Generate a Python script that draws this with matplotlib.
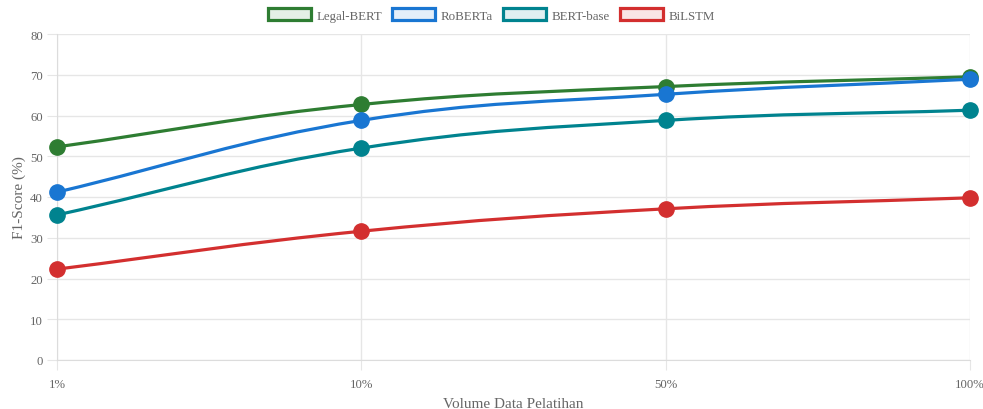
import numpy as np
import matplotlib
matplotlib.use("Agg")
import matplotlib.pyplot as plt
from matplotlib.path import Path
from matplotlib.patches import PathPatch, Patch

# F1 scores per training data volume
volumes = ["1%", "10%", "50%", "100%"]
legal_bert = [52.3, 62.7, 67.1, 69.5]
roberta = [41.2, 58.8, 65.2, 68.9]
bert_base = [35.6, 52.0, 58.8, 61.3]
bilstm = [22.3, 31.6, 37.1, 39.8]

models = ["Legal-BERT", "RoBERTa", "BERT-base", "BiLSTM"]
scores = [legal_bert, roberta, bert_base, bilstm]
colors = ["#2e7d32", "#1976d2", "#00838f", "#d32f2f"]

plt.rcParams["font.family"] = ["Liberation Serif", "DejaVu Serif"]

fig = plt.figure(figsize=(9.83, 4.10), dpi=100)
W, H = 983, 410
ax = fig.add_axes([57 / W, 1 - 361 / H, (970 - 57) / W, (361 - 35) / H])
x = np.arange(len(volumes))
ax.set_xlim(0, len(volumes) - 1)
ax.set_ylim(0, 80)
ax.set_yticks(range(0, 81, 10))
ax.set_xticks(x)
ax.set_xticklabels(volumes)

grid_c = "#e6e6e6"
ax.grid(True, color=grid_c, linewidth=1)
ax.set_axisbelow(True)
for s in ["top", "right"]:
    ax.spines[s].set_visible(False)
for s in ["left", "bottom"]:
    ax.spines[s].set_color("#dcdcdc")
ax.tick_params(axis="both", length=7, color=grid_c, labelcolor="#666666",
               labelsize=9.2)
ax.tick_params(axis="y", pad=3)
ax.tick_params(axis="x", pad=6)
ax.set_ylabel("F1-Score (%)", color="#666666", fontsize=11, labelpad=3)
ax.set_xlabel("Volume Data Pelatihan", color="#666666", fontsize=11, labelpad=5)


def smooth_path(px, py, t=0.4):
    # cubic bezier through the points, control points as in a tension spline
    pts = np.column_stack([px, py])
    n = len(pts)
    cps = []
    for i in range(n):
        prev = pts[max(i - 1, 0)]
        cur = pts[i]
        nxt = pts[min(i + 1, n - 1)]
        d01 = np.hypot(*(cur - prev))
        d12 = np.hypot(*(nxt - cur))
        tot = d01 + d12
        s01 = d01 / tot if tot else 0
        s12 = d12 / tot if tot else 0
        cps.append((cur - t * s01 * (nxt - prev), cur + t * s12 * (nxt - prev)))
    verts = [pts[0]]
    for i in range(n - 1):
        verts += [cps[i][1], cps[i + 1][0], pts[i + 1]]
    return np.array(verts)


for name, ys, c in zip(models, scores, colors):
    disp = ax.transData.transform(np.column_stack([x, ys]))
    verts = smooth_path(disp[:, 0], disp[:, 1])
    verts = ax.transData.inverted().transform(verts)
    codes = [Path.MOVETO] + [Path.CURVE4] * (len(verts) - 1)
    ax.add_patch(PathPatch(Path(verts, codes), facecolor="none", edgecolor=c,
                           linewidth=2.3, zorder=3, clip_on=False))
    ax.plot(x, ys, "o", color=c, markersize=11, zorder=4, clip_on=False)

handles = [Patch(facecolor=matplotlib.colors.to_rgba(c, 0.12), edgecolor=c,
                 linewidth=2.3, label=m) for m, c in zip(models, colors)]
fig.legend(handles=handles, loc="center", bbox_to_anchor=(0.5, 1 - 16 / H),
           ncol=4, frameon=False, fontsize=9.3, handlelength=3.3,
           handleheight=0.95, columnspacing=0.8, handletextpad=0.45,
           labelcolor="#666666")

fig.savefig("out.png", dpi=100)
